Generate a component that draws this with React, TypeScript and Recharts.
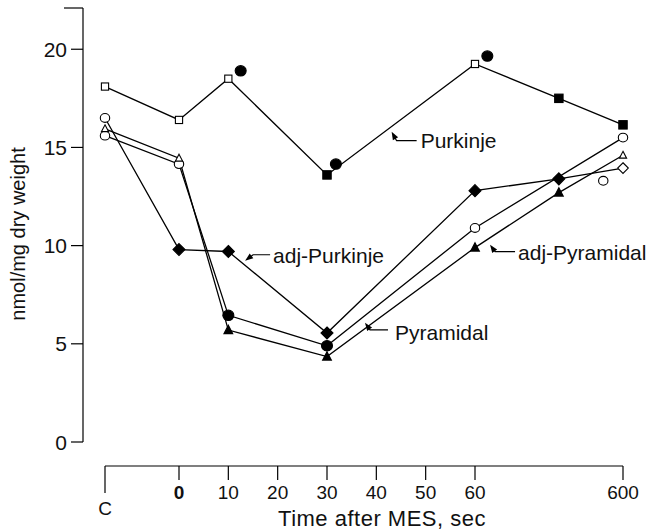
import React from "react";
import { ComposedChart, Line, Scatter, XAxis, YAxis, ReferenceDot } from "recharts";

// x positions on the broken time axis: C sits left of 0, 600 s sits past 60 s
const tickPositions = [-15, 0, 10, 20, 30, 40, 50, 60, 90];
const tickLabels = ["C", "0", "10", "20", "30", "40", "50", "60", "600"];
const yTicks = [0, 5, 10, 15, 20];
const yTop = 22.1;

const purkinjeX = [-15, 0, 10, 30, 60, 77, 90];
const purkinjeY = [18.1, 16.4, 18.5, 13.6, 19.25, 17.5, 16.15];
const purkinjeSig = [false, false, false, true, false, true, true];

const adjPurkinjeX = [-15, 0, 10, 30, 60, 77, 90];
const adjPurkinjeY = [16.5, 9.8, 9.7, 5.55, 12.8, 13.4, 13.95];
const adjPurkinjeSig = [false, true, true, true, true, true, false];

const pyramidalX = [-15, 0, 10, 30, 60, 90];
const pyramidalY = [15.6, 14.15, 6.45, 4.9, 10.9, 15.5];
const pyramidalSig = [false, false, true, true, false, false];

const adjPyramidalX = [-15, 0, 10, 30, 60, 77, 90];
const adjPyramidalY = [15.95, 14.45, 5.7, 4.35, 9.9, 12.7, 14.6];
const adjPyramidalSig = [false, false, true, true, true, true, false];

// single readings not joined to a curve
const extraX = [12.5, 31.8, 62.5, 86];
const extraY = [18.9, 14.15, 19.65, 13.3];
const extraSig = [true, true, true, false];

// curve labels and the point each arrow touches
const calloutText = ["Purkinje", "adj-Purkinje", "Pyramidal", "adj-Pyramidal"];
const calloutX = [43.1, 13.4, 37.7, 63.05];
const calloutY = [15.8, 9.23, 6.07, 10.05];

const FONT = '"Liberation Sans", Arial, Helvetica, sans-serif';

const rows = (xs: number[], ys: number[], sig: boolean[]) =>
  xs.map((x, i) => ({ x, y: ys[i], sig: sig[i] }));

const purkinje = rows(purkinjeX, purkinjeY, purkinjeSig);
const adjPurkinje = rows(adjPurkinjeX, adjPurkinjeY, adjPurkinjeSig);
const pyramidal = rows(pyramidalX, pyramidalY, pyramidalSig);
const adjPyramidal = rows(adjPyramidalX, adjPyramidalY, adjPyramidalSig);
const extra = rows(extraX, extraY, extraSig);

type Shape = "square" | "circle" | "diamond" | "triangle";

function Marker({ cx, cy, shape, filled }: { cx: number; cy: number; shape: Shape; filled: boolean }) {
  const fill = filled ? "#000" : "#fff";
  const sw = 1.1;
  if (shape === "square") {
    const h = filled ? 4.2 : 3.6;
    return <rect x={cx - h} y={cy - h} width={2 * h} height={2 * h} fill={fill} stroke="#000" strokeWidth={sw} />;
  }
  if (shape === "circle") {
    const r = filled ? 5.2 : 4.4;
    return <ellipse cx={cx} cy={cy} rx={r + 0.3} ry={r} fill={fill} stroke="#000" strokeWidth={sw} />;
  }
  if (shape === "diamond") {
    const h = filled ? 6 : 5.3;
    return (
      <polygon
        points={`${cx},${cy - h} ${cx + h},${cy} ${cx},${cy + h} ${cx - h},${cy}`}
        fill={fill}
        stroke="#000"
        strokeWidth={sw}
      />
    );
  }
  const h = filled ? 4.4 : 3.6;
  return (
    <polygon
      points={`${cx},${cy - h * 1.1} ${cx + h},${cy + h * 0.8} ${cx - h},${cy + h * 0.8}`}
      fill={fill}
      stroke="#000"
      strokeWidth={sw}
    />
  );
}

const dotFor = (name: string, shape: Shape, controlShape?: Shape) => (p: any) => (
  <Marker
    key={`${name}-${p.index}`}
    cx={p.cx}
    cy={p.cy}
    shape={p.payload.x === tickPositions[0] && controlShape ? controlShape : shape}
    filled={p.payload.sig}
  />
);

function XTick(props: any) {
  const { x, y, payload } = props;
  const i = tickPositions.indexOf(payload.value);
  const label = tickLabels[i];
  const isControl = i === 0;
  return (
    <g>
      <line x1={x} x2={x} y1={y - 14} y2={isControl ? y + 13 : y} stroke="#000" strokeWidth={1.2} />
      <text
        x={x}
        y={isControl ? y + 35 : y + 19}
        textAnchor="middle"
        fontFamily={FONT}
        fontSize={19}
        fontWeight={label === "0" ? "bold" : "normal"}
        fill="#111"
      >
        {label}
      </text>
    </g>
  );
}

function YTick(props: any) {
  const { x, y, payload } = props;
  if (payload.value === yTop) {
    return <line x1={x - 3} x2={x + 16} y1={y} y2={y} stroke="#000" strokeWidth={1.2} />;
  }
  return (
    <g>
      <line x1={x + 4} x2={x + 16} y1={y} y2={y} stroke="#000" strokeWidth={1.2} />
      <text x={x} y={y} dy="0.36em" textAnchor="end" fontFamily={FONT} fontSize={21} fill="#111">
        {payload.value}
      </text>
    </g>
  );
}

// leader geometry for each callout, relative to the arrow tip
const LEADERS = [
  { bx: 5, by: 9, end: 25, tx: 29, ty: 9 },
  { bx: 8, by: -6, end: 25, tx: 28, ty: -5 },
  { bx: 5, by: 7, end: 23, tx: 30, ty: 10 },
  { bx: 5, by: 7, end: 25, tx: 28, ty: 8 },
];

const calloutShape = (i: number) => (p: any) => {
  const { cx, cy } = p;
  const g = LEADERS[i];
  const len = Math.hypot(g.bx, g.by);
  const ux = g.bx / len;
  const uy = g.by / len;
  const al = 8;
  const aw = 3;
  const baseX = cx + ux * al;
  const baseY = cy + uy * al;
  const head = `${cx},${cy} ${baseX - uy * aw},${baseY + ux * aw} ${baseX + uy * aw},${baseY - ux * aw}`;
  return (
    <g>
      <polygon points={head} fill="#000" />
      <polyline
        points={`${cx + ux * 5},${cy + uy * 5} ${cx + g.bx},${cy + g.by} ${cx + g.end},${cy + g.by}`}
        fill="none"
        stroke="#000"
        strokeWidth={1.2}
      />
      <text x={cx + g.tx} y={cy + g.ty} dy="0.36em" fontFamily={FONT} fontSize={21} fill="#111">
        {calloutText[i]}
      </text>
    </g>
  );
};

const xTitle = (p: any) => {
  const vb = p.viewBox;
  return (
    <text
      x={vb.x + vb.width / 2 + 18}
      y={vb.y + 60}
      textAnchor="middle"
      fontFamily={FONT}
      fontSize={22}
      letterSpacing={0.5}
      fill="#111"
    >
      Time after MES, sec
    </text>
  );
};

const yTitle = (p: any) => {
  const vb = p.viewBox;
  const x = vb.x + 25;
  const y = vb.y + vb.height / 2 + 9;
  return (
    <text x={x} y={y} transform={`rotate(-90, ${x}, ${y})`} textAnchor="middle" fontFamily={FONT} fontSize={20} fill="#111">
      nmol/mg dry weight
    </text>
  );
};

const lineStyle = { stroke: "#000", strokeWidth: 1.3 };

export default function App() {
  return (
    <div style={{ position: "absolute", left: 0, top: 0, background: "#fff" }}>
      <ComposedChart width={648} height={532} margin={{ top: 8, right: 25, bottom: 0, left: 0 }}>
        <XAxis xAxisId="gap" type="number" dataKey="x" domain={[-15, 90]} height={24} axisLine={false} tickLine={false} tick={false} />
        <XAxis
          xAxisId="main"
          type="number"
          dataKey="x"
          domain={[-15, 90]}
          ticks={tickPositions}
          interval={0}
          height={66}
          axisLine={{ stroke: "#000", strokeWidth: 1.2 }}
          tickLine={false}
          tickSize={14}
          tickMargin={0}
          tick={<XTick />}
          label={xTitle}
        />
        <YAxis yAxisId="gap" type="number" domain={[0, yTop]} width={22} axisLine={false} tickLine={false} tick={false} />
        <YAxis
          yAxisId="main"
          type="number"
          domain={[0, yTop]}
          ticks={[...yTicks, yTop]}
          interval={0}
          width={83}
          axisLine={{ stroke: "#000", strokeWidth: 1.2 }}
          tickLine={false}
          tickSize={12}
          tickMargin={4}
          tick={<YTick />}
          label={yTitle}
        />
        <Line xAxisId="main" yAxisId="main" data={purkinje} dataKey="y" {...lineStyle} dot={dotFor("pk", "square")} isAnimationActive={false} />
        <Line xAxisId="main" yAxisId="main" data={adjPurkinje} dataKey="y" {...lineStyle} dot={dotFor("apk", "diamond", "circle")} isAnimationActive={false} />
        <Line xAxisId="main" yAxisId="main" data={pyramidal} dataKey="y" {...lineStyle} dot={dotFor("py", "circle")} isAnimationActive={false} />
        <Line xAxisId="main" yAxisId="main" data={adjPyramidal} dataKey="y" {...lineStyle} dot={dotFor("apy", "triangle")} isAnimationActive={false} />
        <Scatter
          xAxisId="main"
          yAxisId="main"
          data={extra}
          dataKey="y"
          isAnimationActive={false}
          shape={(p: any) => <Marker cx={p.cx} cy={p.cy} shape="circle" filled={p.payload.sig} />}
        />
        {calloutText.map((t, i) => (
          <ReferenceDot
            key={t}
            xAxisId="main"
            yAxisId="main"
            x={calloutX[i]}
            y={calloutY[i]}
            r={0}
            ifOverflow="visible"
            shape={calloutShape(i)}
          />
        ))}
      </ComposedChart>
    </div>
  );
}
